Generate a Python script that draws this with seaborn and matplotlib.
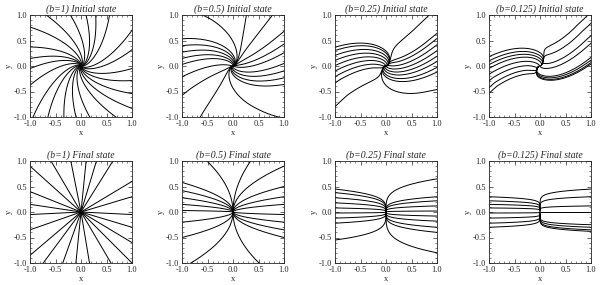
import numpy as np
import pandas as pd
import matplotlib
matplotlib.use("Agg")
import matplotlib.pyplot as plt
import seaborn as sns
from matplotlib.ticker import MultipleLocator

sns.set_style("ticks")
plt.rcParams['font.family'] = ['Liberation Serif', 'DejaVu Serif']

# Field-line parameters
b_values = [1.0, 0.5, 0.25, 0.125]
b_labels = ["1", "0.5", "0.25", "0.125"]

# end heights of the lines at |x| = 1 (left / right of the centre), final state
c_left = [
    [0.9, 0.4, 0.15, -0.05, -0.35, -0.85, 1.7, 5.0, -1.35, -2.8, -10.0],
    [0.58, 0.42, 0.28, 0.15, 0.03, -0.2, -0.5, 1.4, -1.1],
    [0.45, 0.38, 0.28, 0.18, 0.08, -0.02, -0.12, -0.22, -0.55],
    [0.3, 0.22, 0.15, 0.08, -0.02, -0.12, -0.22, -0.3],
]
c_right = [
    [0.6, 0.3, -0.05, -0.3, -0.6, -1.0, 1.6, 3.3, -1.7, -6.0, 10.0],
    [0.9, 0.5, 0.3, 0.15, -0.05, -0.2, -0.35, -0.5, 1.7, -1.4],
    [0.65, 0.3, 0.22, 0.12, 0.02, -0.08, -0.18, -0.3, -0.4, -0.8],
    [0.45, 0.3, 0.12, 0.0, -0.25, -0.3, -0.35, -0.38],
]
# initial state: rotation at r = 1, log-spiral strength and upward lift
twist_const = [0.0, 0.05, 0.17, 0.27]
twist_log = [0.35, 0.35, 0.4, 0.4]
lift = [0.0, 0.05, 0.1, 0.15]

titles_top = [f"(b={s}) Initial state" for s in b_labels]
titles_bot = [f"(b={s}) Final state" for s in b_labels]
tick_vals = [-1.0, -0.5, 0.0, 0.5, 1.0]


def field_lines(b, cl, cr, tw0=None, tw1=None, up=0.0):
    t = np.concatenate([np.logspace(-7, -1, 120), np.linspace(0.1, 1.8, 120)[1:]])
    rows = []
    k = 0
    for side, cs in ((-1, cl), (1, cr)):
        for c in cs:
            x = side * t
            y = c * t ** b
            if tw0 is not None:
                r = np.sqrt(x ** 2 + y ** 2)
                phi = tw0 + tw1 * np.log(np.maximum(r, 0.02))
                x, y = x * np.cos(phi) - y * np.sin(phi), x * np.sin(phi) + y * np.cos(phi)
                y = y + up * np.minimum(r, 1.0)
            rows.append(pd.DataFrame({"x": x, "y": y, "line": k}))
            k += 1
    return pd.concat(rows, ignore_index=True)


fig = plt.figure(figsize=(6.0, 2.85), dpi=100)
lefts = [30 / 600, 182 / 600, 335 / 600, 489 / 600]
bottoms = [1 - 117 / 285, 1 - 263 / 285]
w, h = 102 / 600, 102 / 285

for row in range(2):
    for i, b in enumerate(b_values):
        ax = fig.add_axes([lefts[i], bottoms[row], w, h])
        if row == 0:
            df = field_lines(b, c_left[i], c_right[i], twist_const[i], twist_log[i], lift[i])
            title = titles_top[i]
        else:
            df = field_lines(b, c_left[i], c_right[i])
            title = titles_bot[i]
        sns.lineplot(data=df, x="x", y="y", units="line", estimator=None, sort=False,
                     color="black", linewidth=0.7, ax=ax)
        ax.set_xlim(-1, 1)
        ax.set_ylim(-1, 1)
        ax.set_xticks(tick_vals)
        ax.set_yticks(tick_vals)
        ax.set_xticklabels([f"{v:.1f}" for v in tick_vals], fontsize=6)
        ax.set_yticklabels([f"{v:.1f}" for v in tick_vals], fontsize=6)
        ax.xaxis.set_minor_locator(MultipleLocator(0.1))
        ax.yaxis.set_minor_locator(MultipleLocator(0.1))
        ax.tick_params(which="both", direction="in", top=True, right=True, pad=2)
        ax.tick_params(which="major", length=3, width=0.5)
        ax.tick_params(which="minor", length=1.5, width=0.4)
        for sp in ax.spines.values():
            sp.set_linewidth(0.6)
        ax.set_xlabel("x", fontsize=6, labelpad=1)
        ax.set_ylabel("y", fontsize=6, labelpad=1)
        ax.set_title(title, fontsize=7, style="italic", pad=2)

fig.savefig("out.png", dpi=100)
